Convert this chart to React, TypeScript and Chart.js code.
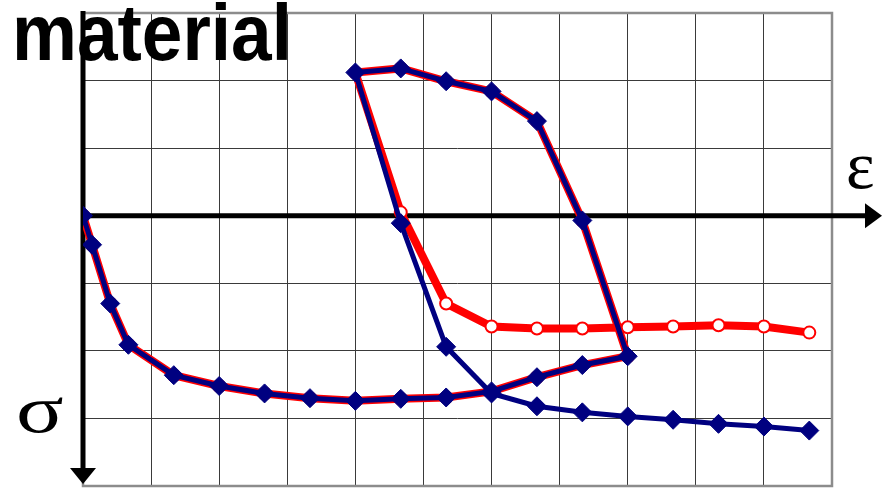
import React, { useEffect, useRef } from "react";
import { Chart, registerables } from "chart.js";

Chart.register(...registerables);

// Loading branch (shared by both series)
const loadingX = [0, 0.2, 0.6, 1, 2, 3, 4, 5, 6, 7, 8, 9, 10, 11, 12];
const loadingS = [0, 0.43, 1.3, 1.91, 2.36, 2.52, 2.63, 2.7, 2.74, 2.71, 2.69, 2.6, 2.39, 2.21, 2.08];
// Reverse branch (shared)
const reverseX = [11, 10, 9, 8, 7, 6];
const reverseS = [0.07, -1.4, -1.84, -1.99, -2.18, -2.12];
// Re-loading tails
const tailX = [7, 8, 9, 10, 11, 12, 13, 14, 15, 16];
const blueTailS = [0.11, 1.94, 2.63, 2.82, 2.91, 2.97, 3.02, 3.08, 3.12, 3.18];
const redTailS = [-0.05, 1.3, 1.64, 1.67, 1.67, 1.65, 1.64, 1.62, 1.64, 1.73];

const titleText = "material";
const xAxisLabel = "ε";
const yAxisLabel = "σ";

const toPoints = (xs: number[], ys: number[]) => xs.map((x, i) => ({ x, y: ys[i] }));

export default function App() {
  const ref = useRef<HTMLCanvasElement | null>(null);

  useEffect(() => {
    if (!ref.current) return;
    const bluePts = [
      ...toPoints(loadingX, loadingS),
      ...toPoints(reverseX, reverseS),
      ...toPoints(tailX, blueTailS),
    ];
    const redPts = [
      ...toPoints(loadingX, loadingS),
      ...toPoints(reverseX, reverseS),
      ...toPoints(tailX, redTailS),
    ];

    const decor = {
      id: "decor",
      beforeDatasetsDraw(chart: any) {
        const { ctx, chartArea: a, scales } = chart;
        ctx.save();
        // frame
        ctx.strokeStyle = "#8c8c8c";
        ctx.lineWidth = 2.5;
        ctx.strokeRect(a.left, a.top, a.right - a.left, a.bottom - a.top);
        // epsilon axis
        const y0 = scales.y.getPixelForValue(0);
        ctx.strokeStyle = "#000";
        ctx.fillStyle = "#000";
        ctx.lineWidth = 5;
        ctx.beginPath();
        ctx.moveTo(a.left, y0);
        ctx.lineTo(868, y0);
        ctx.stroke();
        ctx.beginPath();
        ctx.moveTo(865, y0 - 12.5);
        ctx.lineTo(882, y0);
        ctx.lineTo(865, y0 + 12.5);
        ctx.closePath();
        ctx.fill();
        // sigma axis
        const x0 = scales.x.getPixelForValue(0);
        ctx.beginPath();
        ctx.moveTo(x0, 11);
        ctx.lineTo(x0, 470);
        ctx.stroke();
        ctx.beginPath();
        ctx.moveTo(x0 - 13, 468);
        ctx.lineTo(x0 + 13, 468);
        ctx.lineTo(x0, 484);
        ctx.closePath();
        ctx.fill();
        ctx.restore();
      },
      afterDraw(chart: any) {
        const { ctx } = chart;
        ctx.save();
        ctx.fillStyle = "#000";
        ctx.textBaseline = "alphabetic";
        ctx.save();
        ctx.translate(12, 60);
        ctx.scale(1, 1.1);
        ctx.font = "bold 73px 'Liberation Sans', Arial, sans-serif";
        ctx.fillText(titleText, 0, 0);
        ctx.restore();
        ctx.font = "68px 'Liberation Serif', 'Times New Roman', serif";
        ctx.fillText(xAxisLabel, 846, 188);
        ctx.save();
        ctx.translate(16, 432);
        ctx.scale(1.3, 1);
        ctx.font = "68px 'Liberation Serif', 'Times New Roman', serif";
        ctx.fillText(yAxisLabel, 0, 0);
        ctx.restore();
        ctx.restore();
      },
    };

    const chart = new Chart(ref.current, {
      type: "scatter",
      data: {
        datasets: [
          {
            label: "blue",
            data: bluePts,
            showLine: true,
            borderColor: "#000080",
            borderWidth: 5,
            pointStyle: "rectRot",
            pointRadius: 9.5,
            pointBackgroundColor: "#000080",
            pointBorderColor: "#000080",
            pointBorderWidth: 1,
            order: 0,
          },
          {
            label: "red",
            data: redPts,
            showLine: true,
            borderColor: "#ff0000",
            borderWidth: 8,
            pointStyle: "circle",
            pointRadius: 6,
            pointBackgroundColor: "#ffffff",
            pointBorderColor: "#ff0000",
            pointBorderWidth: 2,
            order: 1,
          },
        ],
      },
      options: {
        responsive: false,
        animation: false,
        events: [],
        layout: { autoPadding: false, padding: { left: 83, top: 13, right: 58, bottom: 2 } },
        plugins: { legend: { display: false }, tooltip: { enabled: false } },
        scales: {
          x: {
            type: "linear",
            min: 0,
            max: 16.5,
            afterFit: (s: any) => { s.height = 0; },
            ticks: { display: false, stepSize: 1.5 },
            grid: { color: "#3a3a3a", lineWidth: 1, drawTicks: false },
            border: { display: false },
          },
          y: {
            type: "linear",
            reverse: true,
            min: -3,
            max: 4,
            afterFit: (s: any) => { s.width = 0; },
            ticks: { display: false, stepSize: 1 },
            grid: { color: "#3a3a3a", lineWidth: 1, drawTicks: false },
            border: { display: false },
          },
        },
      },
      plugins: [decor],
    });
    return () => chart.destroy();
  }, []);

  return (
    <div style={{ position: "absolute", left: 0, top: 0, width: 890, height: 488, background: "#fff" }}>
      <canvas ref={ref} width={890} height={488} style={{ width: 890, height: 488, display: "block" }} />
    </div>
  );
}
